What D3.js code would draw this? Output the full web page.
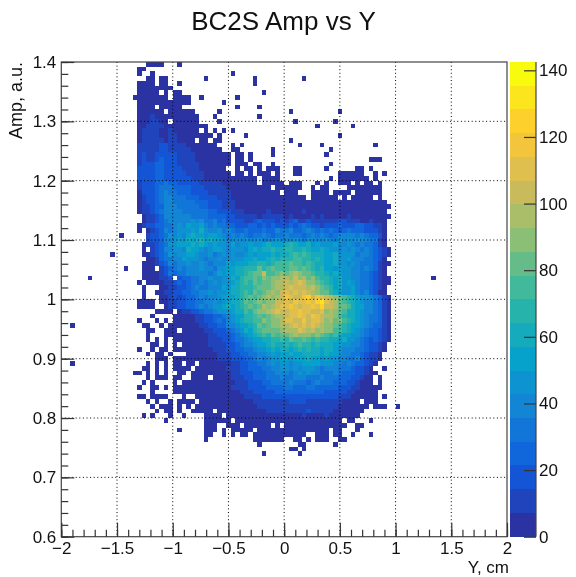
<!DOCTYPE html>
<html>
<head>
<meta charset="utf-8">
<script src="https://cdn.jsdelivr.net/npm/d3@7"></script>
<style>
	html, body { margin: 0; padding: 0; background: #fff; }
	svg { display: block; filter: blur(0.4px); }
	text { font-family: "Liberation Sans", sans-serif; fill: #111; }
</style>
</head>
<body>
<div id="dataviz"></div>
<script>
// Contour level of each bin ('.' = empty, 1-9 then a-k = level 1 to 20).
// One string per row from the top (Amp 1.4 downward), groups of ten bins starting at bin 10.
var levelRows = [
	".........1 111...1...",
	".......11.",
	".......1.. 1......... ........1.",
	".........1 1.11...... ..1....... ...1...... ....1.....",
	".......111 1.11..1... .......... ...1......",
	".......111 11111.....",
	".......111 11.1.11... .......... .....1....",
	"......1111 1111.1111. .1.......1",
	".......111 111111111. ......1...",
	".......111 1.11111... .........1 ....1.....",
	".......111 111.111111 .....1.... .......... .1........ ..1.......",
	".......111 2111111111 1...1..... ....1.....",
	".......111 2211.11111 1....1.... .......... ..1....... .1........",
	".......112 2221111111 111....... .......... .......1.. .....1....",
	".......122 2211211111 1.1.1.1.1.",
	".......122 2211221111 1111.1.... .1........ .......... ..1.......",
	".......122 2221221111 .11.11.... .......... .1........",
	".......222 2233222211 11111...1. 1......... ...1....1. .......... 1.........",
	".......222 2233222221 111111..11 .......1.. .......... 1.........",
	".......232 2333332222 11111111.1 1.1....1.. .........1",
	".......232 2343332222 11111111.1 1.1....... .......... .........1 11........",
	".......233 3443332222 21111111.1 11.11..1.. .......... 1.........",
	".......333 3443333222 2111111..1 .11.1.111. ..11.....1 ......11.1",
	".......333 3443333322 22111111.1 1.1.111.1. ..11...... ..111111.. 1.1.......",
	".......333 3443333332 2211111111 1111.1111. .......... 1.1111111. 1.........",
	".......233 3445443333 3222221111 1111.11111 .111...1.1 ..111.1.11 .1........",
	".......233 3455544443 3322222111 1111111.11 1111..1.11 ....111111 11........",
	".......133 3456554443 3332222211 111111111. 111...1111 .1111.1111 11........",
	".......123 3456655544 4333322211 1111111111 11111.1111 11.1.11111 .1........",
	".......123 3456655555 4443332221 1111111111 1111111111 1111111111 111.......",
	".......122 3446665555 5443332221 1111111111 1111111111 1111111111 1111......",
	".......122 3456666555 5554433322 2111112111 1111211111 1111111111 111.......",
	"........12 2346666665 5554444332 2222122222 1211112121 1111211111 1111......",
	"........12 2345666667 6755645333 3223433323 2342232222 2233222112 111.......",
	".......123 3445567687 7865655443 3344343433 3434543323 3343334433 221.......",
	".......1.1 2346567778 7976675654 4544454465 5644565454 5434544433 321.......",
	"...1.....2 3345767689 8878876565 6545565455 6555456565 4566665654 431.......",
	".........2 3346678798 9a89887667 6766756676 6676576667 6586767665 521.......",
	"........12 2345778889 8987877686 7787789888 9a98897877 7866765655 421.......",
	"........1. 2346677698 8767887677 7689899a99 aa99a98898 7767676565 4321......",
	".1......11 2345767788 7667567676 6787888989 9ababa9998 8977775665 4321......",
	".........1 1245566877 7656676677 7889889a9a aabbaa9a98 8977866655 431.......",
	"........11 1234656676 6765666878 8899aa9abb bcbbaba998 8977676555 4211......",
	"....1...11 1.23456566 6766577889 9aaacabcbb bccbcba9a8 8787766565 421.......",
	"........11 1123545566 6665687889 9abccfbbcd cdedccbaa9 8987766554 321.......",
	"........11 11223.3445 5667667798 abbcbdcdde edfdecdbaa 9897766554 3211......",
	".......1.1 1112234345 5656767789 abacbccdee fefgfddcba 9897876554 3211......",
	"........1. ..11223345 6556668799 aaabcccdee fgfffefdcb a897786554 321.......",
	"........1. .112233445 5667677899 abacbcdedf gfgfgfedcc a987786564 311.......",
	"........1. ..11232344 5656678889 abcbcdedef hgffhifhgf edcba98776 5421......",
	".......111 1.11223344 5566767899 acbcdcddff gfhgghgijg fecba98766 5421......",
	".......111 1..1223344 5656778989 abcbcedefg ghgfgghgif feccb98866 5421......",
	".......... .1111.1223 3455677789 9bacddefgf fgghggffgd edcb998766 5421......",
	".......... 1....11111 2233445678 8aabcbcdee fgghgfhgfe edba998765 5421......",
	".......1.. .1.1.11111 2233454678 9aabbdcdde ggffhfggfd ecdba98765 5421......",
	"........11 ..1.111111 1223344667 889acbcdde efgfgfgfed dcba988765 4421......",
	".........1 1..111.111 1122333456 798abccccd eeegfefded dbba987654 4321......",
	".........1 ...1111111 1112233345 6789abacbc cdedddcdcb ab98877654 4321......",
	".........1 .1.1.11111 1112223345 5678899aab acbbcbabaa 9989776543 4321......",
	".......... 11.1.1.111 1112222334 5667889a99 a9abaa9a99 9887766543 321.......",
	".......1.. 1.11.11111 1111222334 4556778989 989a9a9989 9876665543 321.......",
	".........1 .11.1...11 1111122233 4455667878 8988999989 8876655432 21........",
	".......... .111.11111 1111122233 3445656778 8788898878 7766556432 21........",
	".........1 .1.1.11.11 .111111122 3344556767 7677888877 7665654432 1.........",
	"........11 .1.1.1111. 1111111222 3344455667 7676777656 6655543321 ..1.......",
	"......11.1 .1.1..11.1 1111111122 3334445566 6567676655 5654443321 1.........",
	".........1 .111.11..1 111.111122 2334445556 5566655565 5544433211 .1........",
	"........1. 1....1.111 1111111112 2233344555 5655545655 5444332111 .1........",
	".......1.. 11.1.11111 1111111122 2233334444 5544455444 4433322111 11........",
	".......... 1....11111 1111111111 2223333344 4444444443 3333221111 1.........",
	".......11. 1111...1.. 1111111111 1222233333 3333333333 3322211111 1.1.......",
	".........1 .1..1.1111 .111111111 1112222222 2333322222 2221111.11 1.........",
	".......... 1.111.1.1. 1111111111 1111222222 2222222222 221111111. 111..1....",
	".......... .1.11.1..1 1111.11111 1111112222 2222232222 21111111.. ",
	"........1. 1...1..1.. ..1111.111 1111111111 1111211112 1111111...",
	".......... ...1...... ..111111.1 1111111111 1111111111 111.11...1",
	".......... .......... ..111..111 .111111.1. 1111111111 1111..11..",
	".......... ......1... ..111.1.11 111.111111 1111111111 .11...1...",
	".......... .......... ..11..1.1. 11.1111111 11111..111 .11..1...1",
	".......... .......... ..1....... ...1111111 ..11.1.111 ..11......",
	".......... .......... .......... ....1..... ...11..... .1........",
	".......... .......... .......... .......... .11.1.....",
	".......... .......... .......... .....1.... ...1......"
];

// Isolated bins outside the main block: Y, Amp
var strayY = [-1.9, -1.9, -1.74, 1.34];
var strayAmp = [0.956, 0.892, 1.036, 1.036];

var xTicks = [-2, -1.5, -1, -0.5, 0, 0.5, 1, 1.5, 2];
var yTicks = [0.6, 0.7, 0.8, 0.9, 1, 1.1, 1.2, 1.3, 1.4];
var zTicks = [0, 20, 40, 60, 80, 100, 120, 140];
var birdStops = ["#2b32a2", "#0f5cdd", "#1481d6", "#06a4ca", "#2eb7a4", "#87bf77", "#d1bb59", "#fec832", "#f9fb0e"];

var nBins = 100;
var nLevels = 20;
var zMax = 142.5;

var width = 576, height = 577;
var left = 61.3, right = 507, top_ = 62, bottom = 536.7;

var svg = d3.select("#dataviz").append("svg")
	.attr("width", width)
	.attr("height", height);

var x = d3.scaleLinear().domain([-2, 2]).range([left, right]);
var y = d3.scaleLinear().domain([0.6, 1.4]).range([bottom, top_]);
var z = d3.scaleLinear().domain([0, zMax]).range([bottom, top_]);

var binW = 4 / nBins, binH = 0.8 / nBins;
var bird = d3.piecewise(d3.interpolateRgb, birdStops);
var levelColors = d3.range(nLevels).map(i => bird(i / (nLevels - 1)));
var color = d3.scaleQuantize().domain([0, zMax]).range(levelColors);

// Rows -> bins
var bins = [];
levelRows.forEach(function (row, r) {
	row.replace(/ /g, "").split("").forEach(function (ch, i) {
		if (ch == ".") return;
		var level = parseInt(ch, 36);
		bins.push({
			x0: -2 + binW * (i + 10),
			y1: 1.4 - binH * r,
			count: (level - 0.5) * zMax / nLevels
		});
	});
});
strayY.forEach(function (v, i) {
	bins.push({
		x0: v - binW / 2,
		y1: strayAmp[i] + binH / 2,
		count: 2
	});
});

// Histogram cells
svg.append("g")
	.attr("shape-rendering", "crispEdges")
	.selectAll("rect")
	.data(bins)
	.enter()
	.append("rect")
	.attr("x", d => x(d.x0))
	.attr("y", d => y(d.y1))
	.attr("width", d => x(d.x0 + binW) - x(d.x0))
	.attr("height", d => y(d.y1 - binH) - y(d.y1))
	.attr("fill", d => color(d.count));

// Dotted grid
svg.append("g").selectAll("line")
	.data(xTicks.slice(1, -1))
	.enter()
	.append("line")
	.attr("x1", d => x(d)).attr("x2", d => x(d))
	.attr("y1", top_).attr("y2", bottom)
	.attr("stroke", "#000")
	.attr("stroke-dasharray", "1 2.6");

svg.append("g").selectAll("line")
	.data(yTicks.slice(1, -1))
	.enter()
	.append("line")
	.attr("x1", left).attr("x2", right)
	.attr("y1", d => y(d)).attr("y2", d => y(d))
	.attr("stroke", "#000")
	.attr("stroke-dasharray", "1 2.6");

// Frame
svg.append("rect")
	.attr("x", left).attr("y", top_)
	.attr("width", right - left).attr("height", bottom - top_)
	.attr("fill", "none")
	.attr("stroke", "#444")
	.attr("stroke-width", 1.2);

// Axes, ticks pointing inward
function styleAxis(g) {
	g.select(".domain").remove();
	g.selectAll("line").attr("stroke", "#333").attr("stroke-width", 1.2);
	g.selectAll("text").attr("font-size", "17px").style("fill", "#111");
}

var fmt = d3.format("~g");

svg.append("g")
	.attr("transform", "translate(0," + bottom + ")")
	.call(d3.axisBottom(x).tickValues(xTicks).tickFormat(fmt).tickSizeInner(-14).tickSizeOuter(0).tickPadding(5.5))
	.call(styleAxis);

svg.append("g")
	.attr("transform", "translate(0," + bottom + ")")
	.call(d3.axisBottom(x).tickValues(d3.range(0, 41).map(i => -2 + i * 0.1)).tickFormat("").tickSizeInner(-7).tickSizeOuter(0))
	.call(styleAxis);

svg.append("g")
	.attr("transform", "translate(" + left + ",0)")
	.call(d3.axisLeft(y).tickValues(yTicks).tickFormat(fmt).tickSizeInner(-13).tickSizeOuter(0).tickPadding(5))
	.call(styleAxis);

svg.append("g")
	.attr("transform", "translate(" + left + ",0)")
	.call(d3.axisLeft(y).tickValues(d3.range(0, 41).map(i => 0.6 + i * 0.02)).tickFormat("").tickSizeInner(-7).tickSizeOuter(0))
	.call(styleAxis);

// Colour bar
var barX = 510, barW = 26;
svg.append("g")
	.attr("shape-rendering", "crispEdges")
	.selectAll("rect")
	.data(levelColors)
	.enter()
	.append("rect")
	.attr("x", barX)
	.attr("width", barW)
	.attr("y", (d, i) => z((i + 1) * zMax / nLevels))
	.attr("height", (d, i) => z(i * zMax / nLevels) - z((i + 1) * zMax / nLevels))
	.attr("fill", d => d);

svg.append("g")
	.attr("transform", "translate(" + (barX + barW) + ",0)")
	.call(d3.axisRight(z).tickValues(zTicks).tickSizeInner(-12).tickSizeOuter(0).tickPadding(3))
	.call(styleAxis);

svg.append("line")
	.attr("x1", barX + barW).attr("x2", barX + barW)
	.attr("y1", top_).attr("y2", bottom)
	.attr("stroke", "#444")
	.attr("stroke-width", 1.2);

// Titles
svg.append("text")
	.text("BC2S Amp vs Y")
	.attr("x", 283.5)
	.attr("y", 30)
	.attr("text-anchor", "middle")
	.attr("font-size", "26px");

svg.append("text")
	.text("Y, cm")
	.attr("x", 509)
	.attr("y", 573)
	.attr("text-anchor", "end")
	.attr("font-size", "17px");

svg.append("text")
	.text("Amp, a.u.")
	.attr("transform", "translate(22,62) rotate(-90)")
	.attr("text-anchor", "end")
	.attr("font-size", "18px");
</script>
</body>
</html>
